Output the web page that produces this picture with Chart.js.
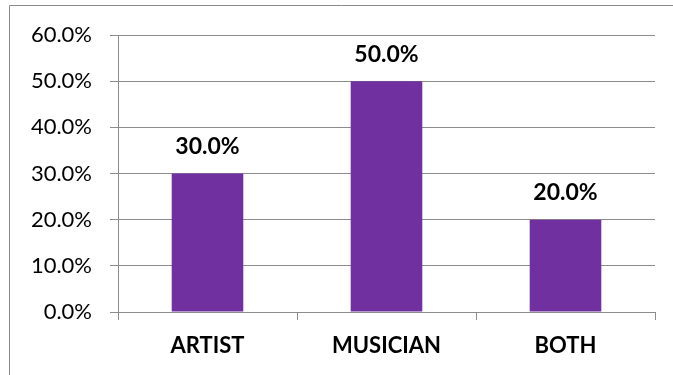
<!DOCTYPE html>
<html><head><meta charset="utf-8">
<script src="https://cdn.jsdelivr.net/npm/chart.js@4/dist/chart.umd.min.js"></script>
<style>html,body{margin:0;padding:0;background:#fff;}#wrap{width:673px;height:375px;position:relative;}</style>
</head><body><div id="wrap"><canvas id="c" width="673" height="375"></canvas></div>
<script>
const categories = ["ARTIST", "MUSICIAN", "BOTH"];
const shares = [0.30, 0.50, 0.20];
const yTickMin = 0, yTickMax = 0.6, yTickStep = 0.1;

const FONT = "Lato, 'Open Sans', sans-serif";
const borderPlugin = {
  id: 'outerBorder',
  beforeDraw(chart) {
    const ctx = chart.ctx;
    ctx.save();
    ctx.fillStyle = '#fff';
    ctx.fillRect(0, 0, chart.width, chart.height);
    ctx.strokeStyle = '#8a8a8a';
    ctx.lineWidth = 1;
    ctx.beginPath();
    ctx.moveTo(9.5, chart.height);
    ctx.lineTo(9.5, 5.5);
    ctx.lineTo(chart.width, 5.5);
    ctx.stroke();
    ctx.restore();
  }
};
const labelPlugin = {
  id: 'valueLabels',
  afterDatasetsDraw(chart) {
    const ctx = chart.ctx;
    const meta = chart.getDatasetMeta(0);
    ctx.save();
    ctx.font = "bold 23px " + FONT;
    ctx.fillStyle = '#000';
    ctx.textAlign = 'center';
    ctx.textBaseline = 'middle';
    meta.data.forEach((bar, i) => {
      ctx.fillText((shares[i] * 100).toFixed(1) + '%', bar.x, bar.y - 27);
    });
    ctx.restore();
  }
};
new Chart(document.getElementById('c'), {
  type: 'bar',
  data: { labels: categories, datasets: [{ data: shares, backgroundColor: '#7030A0', categoryPercentage: 1.0, barPercentage: 0.4 }] },
  options: {
    responsive: false, animation: false, devicePixelRatio: 1,
    layout: { padding: { left: 0, top: 35, right: 18, bottom: 0 } },
    plugins: { legend: { display: false }, tooltip: { enabled: false } },
    scales: {
      y: {
        min: yTickMin, max: yTickMax,
        afterFit(s) { s.width = 118; },
        ticks: { stepSize: yTickStep, color: '#000', font: { family: FONT, size: 22 }, padding: 18,
          callback: v => (v * 100).toFixed(1) + '%' },
        grid: { color: '#8c8c8c', lineWidth: 1, tickLength: 8 },
        border: { color: '#8c8c8c', width: 1 }
      },
      x: {
        afterFit(s) { s.height = 63; },
        ticks: { color: '#000', font: { family: FONT, size: 22, weight: 'bold' }, padding: 13 },
        grid: { offset: true, drawOnChartArea: false, color: '#8c8c8c', tickLength: 8 },
        border: { color: '#8c8c8c', width: 1 }
      }
    }
  },
  plugins: [borderPlugin, labelPlugin]
});
</script></body></html>
